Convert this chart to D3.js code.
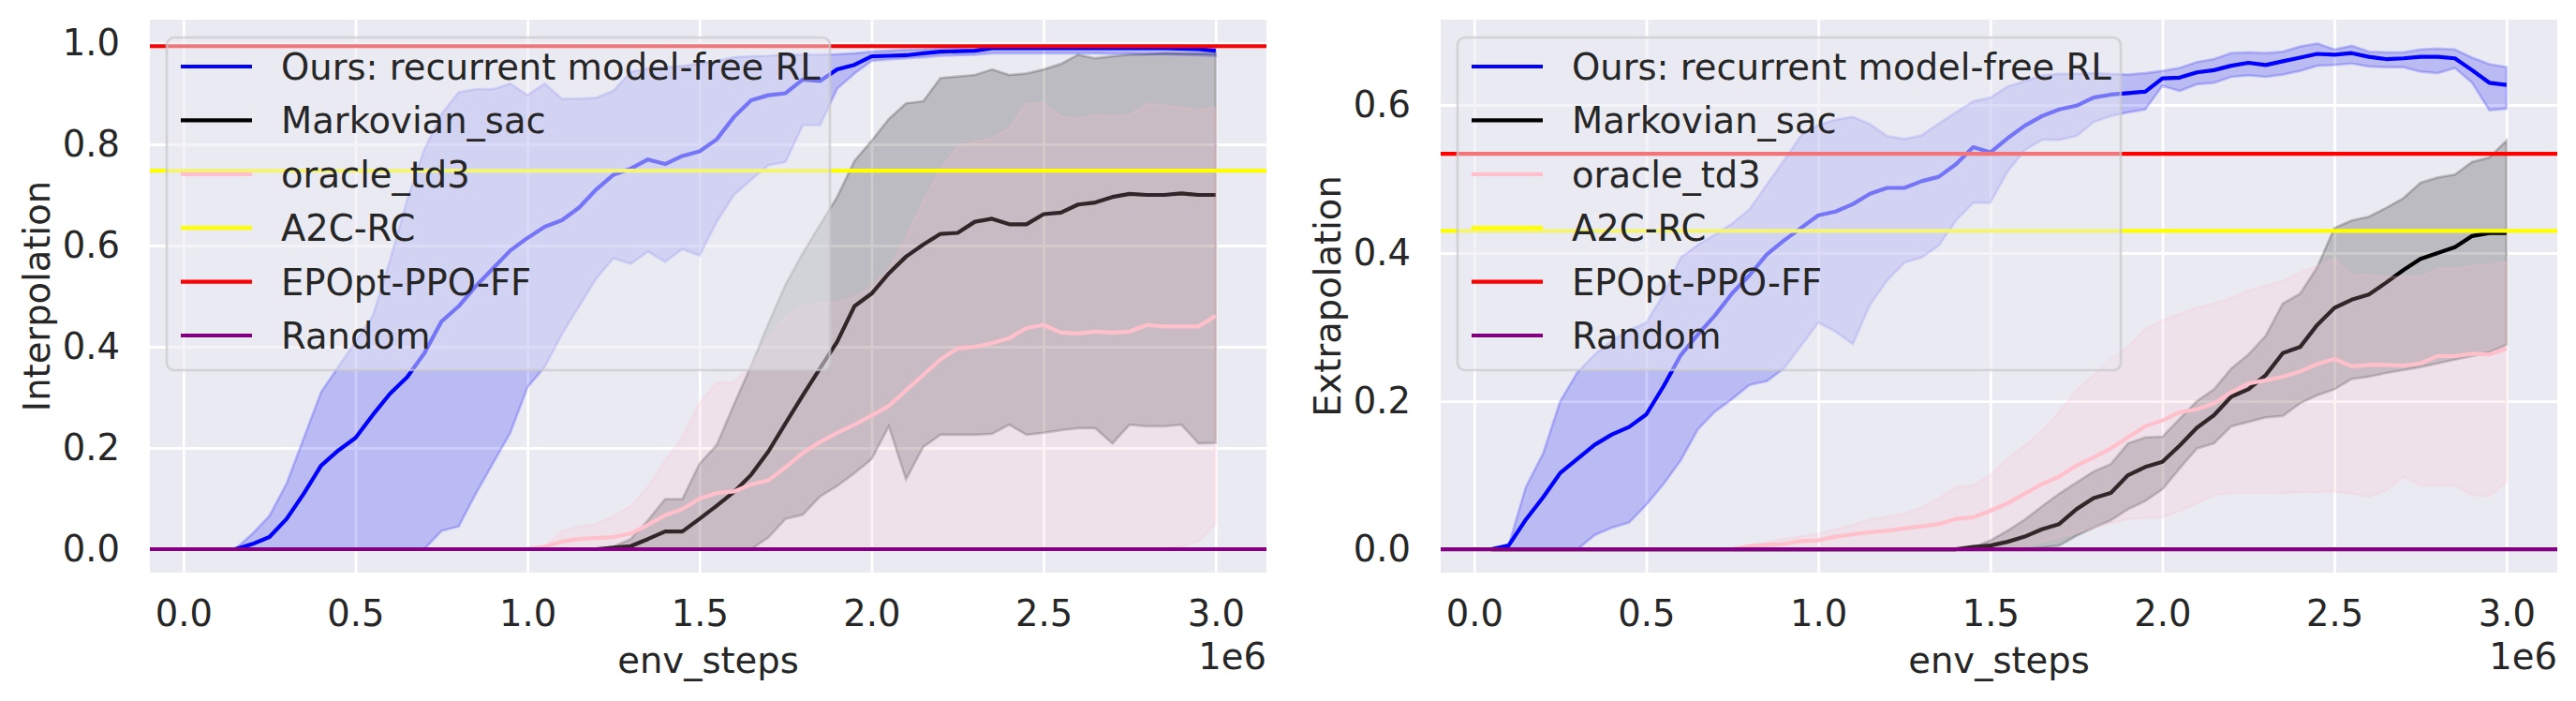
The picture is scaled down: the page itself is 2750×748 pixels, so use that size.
<!DOCTYPE html>
<html>
<head>
<meta charset="utf-8">
<script src="https://cdn.jsdelivr.net/npm/d3@7"></script>
<style>
  body { margin: 0; background: #fff; }
  svg text { font-family: "DejaVu Sans", sans-serif; }
</style>
</head>
<body>
<svg id="chart" width="2750" height="748"></svg>
<script>
// env_steps, in units of 1e6
const envSteps = [
  0.05, 0.10, 0.15, 0.20, 0.25, 0.30, 0.35, 0.40, 0.45, 0.50,
  0.55, 0.60, 0.65, 0.70, 0.75, 0.80, 0.85, 0.90, 0.95, 1.00,
  1.05, 1.10, 1.15, 1.20, 1.25, 1.30, 1.35, 1.40, 1.45, 1.50,
  1.55, 1.60, 1.65, 1.70, 1.75, 1.80, 1.85, 1.90, 1.95, 2.00,
  2.05, 2.10, 2.15, 2.20, 2.25, 2.30, 2.35, 2.40, 2.45, 2.50,
  2.55, 2.60, 2.65, 2.70, 2.75, 2.80, 2.85, 2.90, 2.95, 3.00
];

const methodNames = ["Ours: recurrent model-free RL", "Markovian_sac", "oracle_td3"];
const baselineNames = ["A2C-RC", "EPOpt-PPO-FF", "Random"];

// ---- Interpolation (left) ----
const oursInterpMean = [
  0, 0, 0, 0.01, 0.024, 0.06, 0.11, 0.165, 0.195, 0.22,
  0.265, 0.307, 0.34, 0.387, 0.45, 0.48, 0.52, 0.555, 0.59, 0.615,
  0.637, 0.65, 0.675, 0.711, 0.74, 0.752, 0.77, 0.761, 0.777, 0.786,
  0.81, 0.854, 0.887, 0.897, 0.901, 0.928, 0.925, 0.948, 0.957, 0.974,
  0.975, 0.976, 0.98, 0.983, 0.984, 0.985, 0.99, 0.99, 0.99, 0.99,
  0.99, 0.99, 0.99, 0.99, 0.99, 0.99, 0.99, 0.989, 0.988, 0.985
];
const oursInterpUpper = [
  0, 0, 0, 0.03, 0.066, 0.13, 0.22, 0.31, 0.36, 0.41,
  0.46, 0.57, 0.69, 0.79, 0.86, 0.903, 0.909, 0.909, 0.92, 0.897,
  0.92, 0.89, 0.89, 0.892, 0.906, 0.943, 0.95, 0.952, 0.955, 0.96,
  0.965, 0.972, 0.974, 0.975, 0.977, 0.977, 0.977, 0.978, 0.98, 0.983,
  0.985, 0.987, 0.988, 0.99, 0.992, 0.994, 0.995, 0.995, 0.995, 0.995,
  0.995, 0.995, 0.995, 0.995, 0.995, 0.995, 0.995, 0.995, 0.994, 0.994
];
const oursInterpLower = [
  0, 0, 0, 0, 0, 0, 0, 0, 0, 0,
  0, 0, 0, 0, 0.036, 0.045, 0.11, 0.17, 0.23, 0.32,
  0.36, 0.425, 0.48, 0.535, 0.575, 0.564, 0.588, 0.568, 0.593, 0.58,
  0.647, 0.70, 0.73, 0.759, 0.765, 0.838, 0.838, 0.91, 0.94, 0.965,
  0.968, 0.97, 0.972, 0.975, 0.976, 0.977, 0.98, 0.98, 0.98, 0.98,
  0.98, 0.98, 0.98, 0.979, 0.979, 0.978, 0.978, 0.977, 0.976, 0.975
];
const sacInterpMean = [
  0, 0, 0, 0, 0, 0, 0, 0, 0, 0,
  0, 0, 0, 0, 0, 0, 0, 0, 0, 0,
  0, 0, 0, 0, 0.003, 0.006, 0.02, 0.035, 0.035, 0.06,
  0.086, 0.113, 0.147, 0.193, 0.249, 0.304, 0.357, 0.41, 0.48, 0.505,
  0.545, 0.578, 0.602, 0.623, 0.625, 0.647, 0.653, 0.642, 0.642, 0.662,
  0.665, 0.681, 0.685, 0.696, 0.702, 0.70, 0.70, 0.703, 0.70, 0.70
];
const sacInterpUpper = [
  0, 0, 0, 0, 0, 0, 0, 0, 0, 0,
  0, 0, 0, 0, 0, 0, 0, 0, 0, 0,
  0, 0, 0, 0, 0.005, 0.02, 0.057, 0.099, 0.099, 0.169,
  0.206, 0.286, 0.363, 0.446, 0.523, 0.585, 0.641, 0.696, 0.767, 0.807,
  0.85, 0.881, 0.885, 0.931, 0.934, 0.937, 0.948, 0.937, 0.94, 0.948,
  0.959, 0.977, 0.97, 0.974, 0.977, 0.978, 0.98, 0.98, 0.98, 0.98
];
const sacInterpLower = [
  0, 0, 0, 0, 0, 0, 0, 0, 0, 0,
  0, 0, 0, 0, 0, 0, 0, 0, 0, 0,
  0, 0, 0, 0, 0, 0, 0, 0, 0, 0,
  0, 0, 0, 0.023, 0.06, 0.068, 0.104, 0.125, 0.15, 0.178,
  0.243, 0.138, 0.202, 0.226, 0.226, 0.226, 0.228, 0.246, 0.226, 0.23,
  0.235, 0.239, 0.239, 0.209, 0.246, 0.243, 0.243, 0.246, 0.209, 0.21
];
const td3InterpMean = [
  0, 0, 0, 0, 0, 0, 0, 0, 0, 0,
  0, 0, 0, 0, 0, 0, 0, 0, 0, 0,
  0.005, 0.015, 0.02, 0.022, 0.024, 0.031, 0.048, 0.067, 0.079, 0.10,
  0.111, 0.114, 0.128, 0.136, 0.162, 0.19, 0.212, 0.23, 0.246, 0.264,
  0.283, 0.314, 0.344, 0.375, 0.397, 0.40, 0.407, 0.417, 0.437, 0.443,
  0.428, 0.426, 0.43, 0.428, 0.43, 0.443, 0.44, 0.44, 0.44, 0.461
];
const td3InterpUpper = [
  0, 0, 0, 0, 0, 0, 0, 0, 0, 0,
  0, 0, 0, 0, 0, 0, 0, 0, 0, 0,
  0.005, 0.035, 0.045, 0.05, 0.065, 0.085, 0.122, 0.175, 0.221, 0.289,
  0.329, 0.329, 0.363, 0.419, 0.459, 0.48, 0.486, 0.488, 0.499, 0.517,
  0.554, 0.616, 0.687, 0.752, 0.795, 0.805, 0.813, 0.832, 0.881, 0.881,
  0.854, 0.851, 0.858, 0.856, 0.858, 0.88, 0.877, 0.873, 0.868, 0.873
];
const td3InterpLower = [
  0, 0, 0, 0, 0, 0, 0, 0, 0, 0,
  0, 0, 0, 0, 0, 0, 0, 0, 0, 0,
  0, 0, 0, 0, 0, 0, 0, 0, 0, 0,
  0, 0, 0, 0, 0, 0, 0, 0, 0, 0,
  0, 0, 0, 0, 0, 0, 0, 0, 0, 0,
  0, 0, 0, 0, 0, 0, 0, 0.005, 0.015, 0.05
];
const interpBaselines = [0.748, 0.994, 0];   // A2C-RC, EPOpt-PPO-FF, Random

// ---- Extrapolation (right) ----
const oursExtrapMean = [
  0, 0.005, 0.04, 0.07, 0.103, 0.122, 0.141, 0.155, 0.165, 0.182,
  0.22, 0.262, 0.29, 0.316, 0.346, 0.37, 0.398, 0.417, 0.434, 0.451,
  0.456, 0.466, 0.48, 0.488, 0.488, 0.497, 0.503, 0.52, 0.543, 0.536,
  0.555, 0.572, 0.585, 0.594, 0.599, 0.61, 0.614, 0.616, 0.618, 0.636,
  0.637, 0.644, 0.647, 0.653, 0.657, 0.654, 0.659, 0.664, 0.669, 0.668,
  0.67, 0.665, 0.662, 0.663, 0.665, 0.665, 0.663, 0.647, 0.63, 0.627
];
const oursExtrapUpper = [
  0, 0.005, 0.084, 0.129, 0.2, 0.239, 0.263, 0.282, 0.296, 0.306,
  0.344, 0.394, 0.411, 0.425, 0.44, 0.459, 0.492, 0.525, 0.559, 0.573,
  0.58, 0.584, 0.574, 0.558, 0.554, 0.559, 0.575, 0.59, 0.605, 0.61,
  0.625, 0.632, 0.64, 0.642, 0.642, 0.643, 0.642, 0.641, 0.643, 0.646,
  0.65, 0.658, 0.662, 0.67, 0.671, 0.67, 0.672, 0.679, 0.683, 0.675,
  0.68, 0.672, 0.671, 0.671, 0.675, 0.676, 0.675, 0.664, 0.655, 0.651
];
const oursExtrapLower = [
  0, 0, 0, 0, 0, 0, 0.019, 0.029, 0.036, 0.06,
  0.088, 0.12, 0.162, 0.186, 0.203, 0.222, 0.227, 0.244, 0.275, 0.306,
  0.294, 0.277, 0.33, 0.363, 0.387, 0.394, 0.41, 0.444, 0.468, 0.468,
  0.51, 0.539, 0.553, 0.553, 0.558, 0.577, 0.585, 0.59, 0.594, 0.626,
  0.619, 0.628, 0.63, 0.638, 0.64, 0.638, 0.641, 0.646, 0.653, 0.654,
  0.656, 0.652, 0.651, 0.651, 0.645, 0.643, 0.65, 0.63, 0.593, 0.595
];
const sacExtrapMean = [
  0, 0, 0, 0, 0, 0, 0, 0, 0, 0,
  0, 0, 0, 0, 0, 0, 0, 0, 0, 0,
  0, 0, 0, 0, 0, 0, 0, 0, 0.003, 0.005,
  0.01, 0.017, 0.027, 0.034, 0.054, 0.069, 0.076, 0.10, 0.111, 0.118,
  0.14, 0.164, 0.181, 0.206, 0.216, 0.235, 0.265, 0.273, 0.303, 0.326,
  0.337, 0.344, 0.36, 0.377, 0.392, 0.40, 0.408, 0.423, 0.427, 0.427
];
const sacExtrapUpper = [
  0, 0, 0, 0, 0, 0, 0, 0, 0, 0,
  0, 0, 0, 0, 0, 0, 0, 0, 0, 0,
  0, 0, 0, 0, 0, 0, 0, 0, 0.002, 0.012,
  0.025, 0.04, 0.058, 0.075, 0.09, 0.105, 0.115, 0.143, 0.151, 0.152,
  0.176, 0.20, 0.216, 0.244, 0.263, 0.288, 0.332, 0.345, 0.381, 0.434,
  0.444, 0.449, 0.461, 0.474, 0.495, 0.502, 0.506, 0.523, 0.529, 0.552
];
const sacExtrapLower = [
  0, 0, 0, 0, 0, 0, 0, 0, 0, 0,
  0, 0, 0, 0, 0, 0, 0, 0, 0, 0,
  0, 0, 0, 0, 0, 0, 0, 0, 0, 0,
  0, 0, 0.002, 0.005, 0.018, 0.029, 0.039, 0.054, 0.065, 0.081,
  0.109, 0.136, 0.143, 0.166, 0.172, 0.178, 0.18, 0.197, 0.208, 0.216,
  0.23, 0.233, 0.238, 0.242, 0.246, 0.251, 0.256, 0.261, 0.266, 0.276
];
const td3ExtrapMean = [
  0, 0, 0, 0, 0, 0, 0, 0, 0, 0,
  0, 0, 0, 0, 0, 0.004, 0.006, 0.007, 0.011, 0.012,
  0.017, 0.02, 0.023, 0.025, 0.028, 0.031, 0.034, 0.041, 0.043, 0.052,
  0.062, 0.075, 0.088, 0.098, 0.113, 0.124, 0.136, 0.151, 0.166, 0.174,
  0.185, 0.189, 0.197, 0.212, 0.224, 0.228, 0.233, 0.24, 0.25, 0.257,
  0.247, 0.249, 0.249, 0.248, 0.251, 0.261, 0.261, 0.264, 0.263, 0.271
];
const td3ExtrapUpper = [
  0, 0, 0, 0, 0, 0, 0, 0, 0, 0,
  0, 0, 0, 0, 0, 0.006, 0.009, 0.014, 0.017, 0.021,
  0.027, 0.033, 0.04, 0.044, 0.048, 0.056, 0.068, 0.084, 0.086, 0.10,
  0.122, 0.14, 0.16, 0.185, 0.214, 0.235, 0.257, 0.273, 0.297, 0.309,
  0.318, 0.326, 0.332, 0.339, 0.349, 0.356, 0.362, 0.373, 0.383, 0.392,
  0.37, 0.37, 0.368, 0.368, 0.368, 0.379, 0.379, 0.383, 0.384, 0.388
];
const td3ExtrapLower = [
  0, 0, 0, 0, 0, 0, 0, 0, 0, 0,
  0, 0, 0, 0, 0, 0, 0, 0, 0, 0,
  0, 0, 0, 0, 0, 0, 0, 0, 0, 0,
  0, 0.005, 0.01, 0.016, 0.022, 0.029, 0.035, 0.041, 0.042, 0.043,
  0.052, 0.062, 0.073, 0.076, 0.076, 0.076, 0.076, 0.077, 0.077, 0.078,
  0.075, 0.071, 0.079, 0.098, 0.086, 0.086, 0.086, 0.073, 0.072, 0.09
];
const extrapBaselines = [0.430, 0.534, 0];   // A2C-RC, EPOpt-PPO-FF, Random

const xTicks = [0, 0.5, 1.0, 1.5, 2.0, 2.5, 3.0];
const interpTicks = [0, 0.2, 0.4, 0.6, 0.8, 1.0];
const extrapTicks = [0, 0.2, 0.4, 0.6];

// styling
const methodColors = ["#0000ff", "#000000", "#ffc0cb"];
const baselineColors = ["#ffff00", "#ff0000", "#800080"];
const textColor = "#262626";
const fontSize = 38.5;
const plotTop = 21, plotW = 1192, plotH = 590;

const svg = d3.select("#chart");

const drawPanel = (cfg) => {
  const g = svg.append("g");
  const x = d3.scaleLinear().domain([-0.0975, 3.1475]).range([cfg.left, cfg.left + plotW]);
  const y = d3.scaleLinear().domain(cfg.yDomain).range([plotTop + plotH, plotTop]);

  g.append("rect")
    .attr("x", cfg.left).attr("y", plotTop)
    .attr("width", plotW).attr("height", plotH)
    .attr("fill", "#eaeaf2");

  // grid lines double as ticks
  const xAxis = g.append("g")
    .attr("transform", `translate(0,${plotTop + plotH})`)
    .call(d3.axisBottom(x).tickValues(xTicks).tickFormat(d3.format(".1f"))
      .tickSize(-plotH).tickPadding(30));
  const yAxis = g.append("g")
    .attr("transform", `translate(${cfg.left},0)`)
    .call(d3.axisLeft(y).tickValues(cfg.yTicks).tickFormat(d3.format(".1f"))
      .tickSize(-plotW).tickPadding(32));
  [xAxis, yAxis].forEach(a => {
    a.attr("font-size", fontSize).attr("font-family", "DejaVu Sans").attr("color", textColor);
    a.select(".domain").remove();
    a.selectAll(".tick line").attr("stroke", "#ffffff").attr("stroke-width", 2.8);
  });

  const clipId = "clip-" + cfg.name;
  g.append("clipPath").attr("id", clipId)
    .append("rect")
    .attr("x", cfg.left).attr("y", plotTop)
    .attr("width", plotW).attr("height", plotH);

  const data = g.append("g").attr("clip-path", `url(#${clipId})`);

  const area = (lo, hi) => d3.area()
    .x((d, i) => x(envSteps[i]))
    .y0((d, i) => y(lo[i]))
    .y1((d, i) => y(hi[i]));
  const line = d3.line()
    .x((d, i) => x(envSteps[i]))
    .y(d => y(d));

  cfg.series.forEach((s, k) => {
    data.append("path")
      .datum(s.mean)
      .attr("d", area(s.lower, s.upper))
      .attr("fill", methodColors[k]).attr("fill-opacity", 0.2)
      .attr("stroke", methodColors[k]).attr("stroke-opacity", 0.2)
      .attr("stroke-width", 2.7);
    data.append("path")
      .datum(s.mean)
      .attr("d", line)
      .attr("fill", "none")
      .attr("stroke", methodColors[k])
      .attr("stroke-width", 4.2)
      .attr("stroke-linejoin", "round");
  });

  data.selectAll("line.baseline")
    .data(cfg.baselines)
    .enter()
    .append("line")
      .attr("class", "baseline")
      .attr("x1", cfg.left).attr("x2", cfg.left + plotW)
      .attr("y1", d => y(d)).attr("y2", d => y(d))
      .attr("stroke", (d, i) => baselineColors[i])
      .attr("stroke-width", 4.2);

  // legend (semi-transparent frame)
  const labels = methodNames.concat(baselineNames);
  const colors = methodColors.concat(baselineColors);
  const lg = g.append("g").attr("transform", `translate(${cfg.left + 18},40)`);
  lg.append("rect")
    .attr("width", 708).attr("height", 355).attr("rx", 8)
    .attr("fill", "#eaeaf2").attr("fill-opacity", 0.5)
    .attr("stroke", "#c8c8cc").attr("stroke-opacity", 0.7)
    .attr("stroke-width", 2.7);
  const entries = lg.selectAll("g.entry")
    .data(labels)
    .enter()
    .append("g")
      .attr("class", "entry")
      .attr("transform", (d, i) => `translate(0,${31 + i * 57.4})`);
  entries.append("line")
    .attr("x1", 15).attr("x2", 91)
    .attr("stroke", (d, i) => colors[i])
    .attr("stroke-width", 4.2);
  entries.append("text")
    .attr("x", 122).attr("y", 14)
    .attr("font-size", fontSize)
    .attr("fill", textColor)
    .text(d => d);

  // axis labels
  g.append("text")
    .attr("transform", `translate(${cfg.left - 107},${plotTop + plotH / 2}) rotate(-90)`)
    .attr("text-anchor", "middle")
    .attr("font-size", fontSize).attr("fill", textColor)
    .text(cfg.yLabel);
  g.append("text")
    .attr("x", cfg.left + plotW / 2).attr("y", 718)
    .attr("text-anchor", "middle")
    .attr("font-size", fontSize).attr("fill", textColor)
    .text("env_steps");
  g.append("text")
    .attr("x", cfg.left + plotW).attr("y", 714)
    .attr("text-anchor", "end")
    .attr("font-size", fontSize).attr("fill", textColor)
    .text("1e6");
};

drawPanel({
  name: "interp",
  left: 160,
  yDomain: [-0.0463, 1.0463],
  yTicks: interpTicks,
  yLabel: "Interpolation",
  series: [
    { mean: oursInterpMean, lower: oursInterpLower, upper: oursInterpUpper },
    { mean: sacInterpMean, lower: sacInterpLower, upper: sacInterpUpper },
    { mean: td3InterpMean, lower: td3InterpLower, upper: td3InterpUpper }
  ],
  baselines: interpBaselines
});

drawPanel({
  name: "extrap",
  left: 1538,
  yDomain: [-0.0316, 0.7152],
  yTicks: extrapTicks,
  yLabel: "Extrapolation",
  series: [
    { mean: oursExtrapMean, lower: oursExtrapLower, upper: oursExtrapUpper },
    { mean: sacExtrapMean, lower: sacExtrapLower, upper: sacExtrapUpper },
    { mean: td3ExtrapMean, lower: td3ExtrapLower, upper: td3ExtrapUpper }
  ],
  baselines: extrapBaselines
});
</script>
</body>
</html>
